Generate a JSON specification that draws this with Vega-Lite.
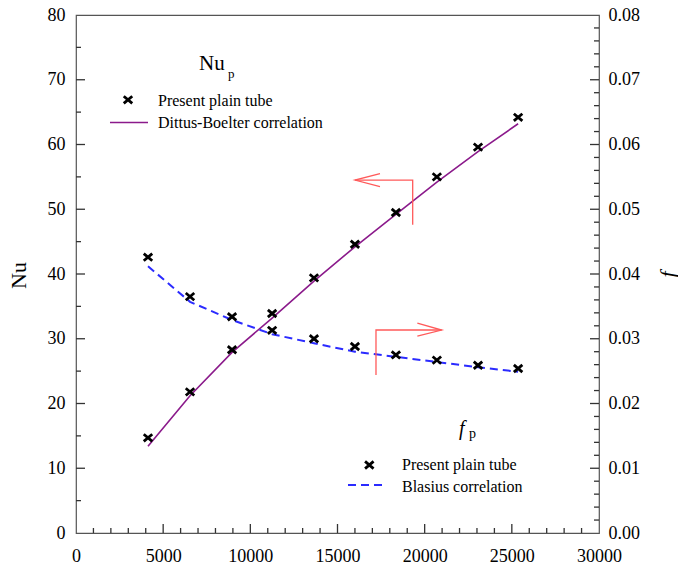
{
  "$schema": "https://vega.github.io/schema/vega-lite/v6.json",
  "width": 523,
  "height": 518,
  "autosize": "none",
  "padding": {"left": 76, "top": 15, "right": 79, "bottom": 36},
  "background": "white",
  "config": {
    "view": {"stroke": "#555", "strokeWidth": 1.2},
    "font": "Liberation Serif",
    "axis": {"grid": false, "domain": false, "labelColor": "black", "titleColor": "black", "labelFont": "Liberation Serif", "titleFont": "Liberation Serif", "labelFontSize": 18, "titleFontWeight": "normal", "labelFlush": false, "labelOverlap": false}
  },
  "datasets": {
    "nu": [{"Re":4130,"Nu":14.7},{"Re":6540,"Nu":21.8},{"Re":8950,"Nu":28.3},{"Re":11250,"Nu":33.9},{"Re":13650,"Nu":39.4},{"Re":16000,"Nu":44.6},{"Re":18350,"Nu":49.5},{"Re":20700,"Nu":55.0},{"Re":23060,"Nu":59.6},{"Re":25360,"Nu":64.2}],
    "db": [{"Re":4130,"Nu":13.4},{"Re":6540,"Nu":21.2},{"Re":8950,"Nu":27.9},{"Re":11250,"Nu":33.2},{"Re":13650,"Nu":38.9},{"Re":16000,"Nu":44.2},{"Re":18350,"Nu":49.2},{"Re":20700,"Nu":54.2},{"Re":23060,"Nu":58.9},{"Re":25360,"Nu":63.2}],
    "fp": [{"Re":4130,"f":0.0426},{"Re":6540,"f":0.0365},{"Re":8950,"f":0.0334},{"Re":11250,"f":0.0313},{"Re":13650,"f":0.0300},{"Re":16000,"f":0.0288},{"Re":18350,"f":0.0275},{"Re":20700,"f":0.0267},{"Re":23060,"f":0.0259},{"Re":25360,"f":0.0254}],
    "bl": [{"Re":4130,"f":0.0412},{"Re":6540,"f":0.0357},{"Re":8950,"f":0.0329},{"Re":11250,"f":0.0307},{"Re":13650,"f":0.0293},{"Re":16000,"f":0.0280},{"Re":18350,"f":0.0272},{"Re":20700,"f":0.0264},{"Re":23060,"f":0.0256},{"Re":25360,"f":0.0249}],
    "arrowNu": [{"seg":"a","o":1,"Re":19313,"Nu":47.6},{"seg":"a","o":2,"Re":19313,"Nu":54.5},{"seg":"a","o":3,"Re":16003,"Nu":54.5},{"seg":"b","o":1,"Re":17437,"Nu":55.5},{"seg":"b","o":2,"Re":16003,"Nu":54.5},{"seg":"b","o":3,"Re":17437,"Nu":53.5}],
    "arrowF": [{"seg":"c","o":1,"Re":17208,"f":0.0244},{"seg":"c","o":2,"Re":17208,"f":0.03135},{"seg":"c","o":3,"Re":20975,"f":0.03135},{"seg":"d","o":1,"Re":19580,"f":0.0324},{"seg":"d","o":2,"Re":20975,"f":0.03135},{"seg":"d","o":3,"Re":19580,"f":0.0304}],
    "xMajor": [{"Re":5000},{"Re":10000},{"Re":15000},{"Re":20000},{"Re":25000}],
    "xMinor": [{"Re":1000},{"Re":2000},{"Re":3000},{"Re":4000},{"Re":6000},{"Re":7000},{"Re":8000},{"Re":9000},{"Re":11000},{"Re":12000},{"Re":13000},{"Re":14000},{"Re":16000},{"Re":17000},{"Re":18000},{"Re":19000},{"Re":21000},{"Re":22000},{"Re":23000},{"Re":24000},{"Re":26000},{"Re":27000},{"Re":28000},{"Re":29000}],
    "nuMajor": [{"Nu":10},{"Nu":20},{"Nu":30},{"Nu":40},{"Nu":50},{"Nu":60},{"Nu":70}],
    "nuMinor": [{"Nu":5},{"Nu":15},{"Nu":25},{"Nu":35},{"Nu":45},{"Nu":55},{"Nu":65},{"Nu":75}],
    "fMajor": [{"f":0.01},{"f":0.02},{"f":0.03},{"f":0.04},{"f":0.05},{"f":0.06},{"f":0.07}],
    "fMinor": [{"f":0.002},{"f":0.004},{"f":0.006},{"f":0.008},{"f":0.012},{"f":0.014},{"f":0.016},{"f":0.018},{"f":0.022},{"f":0.024},{"f":0.026},{"f":0.028},{"f":0.032},{"f":0.034},{"f":0.036},{"f":0.038},{"f":0.042},{"f":0.044},{"f":0.046},{"f":0.048},{"f":0.052},{"f":0.054},{"f":0.056},{"f":0.058},{"f":0.062},{"f":0.064},{"f":0.066},{"f":0.068},{"f":0.072},{"f":0.074},{"f":0.076},{"f":0.078}]
  },
  "layer": [
    {
      "layer": [
        {
          "data": {"name": "db"},
          "mark": {"type": "line", "color": "#8B1A8B", "strokeWidth": 1.6},
          "encoding": {
            "x": {"field": "Re", "type": "quantitative", "scale": {"domain": [0, 30000], "nice": false},
              "axis": {"orient": "bottom", "title": null, "values": [0,5000,10000,15000,20000,25000,30000],
                "format": "d", "ticks": false, "labelPadding": 14}},
            "y": {"field": "Nu", "type": "quantitative", "scale": {"domain": [0, 80], "nice": false},
              "axis": {"orient": "left", "title": "Nu", "titleFontSize": 22, "titleX": -58, "titleY": 260, "titleAngle": -90, "titleAlign": "center", "titleBaseline": "middle",
                "values": [0,10,20,30,40,50,60,70,80], "ticks": false, "labelPadding": 11}}
          }
        },
        {
          "data": {"name": "xMajor"},
          "mark": {"type": "tick", "orient": "vertical", "size": 9, "thickness": 1.3, "color": "#333", "yOffset": -4.5, "opacity": 1},
          "encoding": {"x": {"field": "Re", "type": "quantitative"}, "y": {"datum": 0, "type": "quantitative"}}
        },
        {
          "data": {"name": "xMinor"},
          "mark": {"type": "tick", "orient": "vertical", "size": 5, "thickness": 1.3, "color": "#333", "yOffset": -2.5, "opacity": 1},
          "encoding": {"x": {"field": "Re", "type": "quantitative"}, "y": {"datum": 0, "type": "quantitative"}}
        },
        {
          "data": {"name": "nuMajor"},
          "mark": {"type": "tick", "orient": "horizontal", "size": 9, "thickness": 1.3, "color": "#333", "xOffset": 4.5, "opacity": 1},
          "encoding": {"y": {"field": "Nu", "type": "quantitative"}, "x": {"datum": 0, "type": "quantitative"}}
        },
        {
          "data": {"name": "nuMinor"},
          "mark": {"type": "tick", "orient": "horizontal", "size": 5, "thickness": 1.3, "color": "#333", "xOffset": 2.5, "opacity": 1},
          "encoding": {"y": {"field": "Nu", "type": "quantitative"}, "x": {"datum": 0, "type": "quantitative"}}
        },
        {
          "data": {"name": "nu"},
          "mark": {"type": "point", "shape": "M-1,-0.85L1,0.85M-1,0.85L1,-0.85", "size": 72, "filled": false, "stroke": "black", "strokeWidth": 2.8, "opacity": 1},
          "encoding": {
            "x": {"field": "Re", "type": "quantitative"},
            "y": {"field": "Nu", "type": "quantitative"}
          }
        },
        {
          "data": {"name": "arrowNu"},
          "mark": {"type": "line", "color": "#FF5A5A", "strokeWidth": 1.3},
          "encoding": {
            "x": {"field": "Re", "type": "quantitative"},
            "y": {"field": "Nu", "type": "quantitative"},
            "detail": {"field": "seg"},
            "order": {"field": "o"}
          }
        },
        {
          "data": {"values": [{}]},
          "mark": {"type": "text", "text": "Nu", "fontSize": 21, "align": "left", "baseline": "alphabetic", "color": "black"},
          "encoding": {"x": {"datum": 7055, "type": "quantitative"}, "y": {"datum": 71.5, "type": "quantitative"}}
        },
        {
          "data": {"values": [{}]},
          "mark": {"type": "text", "text": "p", "fontSize": 13, "align": "left", "baseline": "alphabetic", "color": "black"},
          "encoding": {"x": {"datum": 8719, "type": "quantitative"}, "y": {"datum": 70.3, "type": "quantitative"}}
        },
        {
          "data": {"values": [{}]},
          "mark": {"type": "point", "shape": "M-1,-0.85L1,0.85M-1,0.85L1,-0.85", "size": 72, "filled": false, "stroke": "black", "strokeWidth": 2.8, "opacity": 1},
          "encoding": {"x": {"datum": 2983, "type": "quantitative"}, "y": {"datum": 66.9, "type": "quantitative"}}
        },
        {
          "data": {"values": [{}]},
          "mark": {"type": "text", "text": "Present plain tube", "fontSize": 16, "align": "left", "baseline": "alphabetic", "color": "black"},
          "encoding": {"x": {"datum": 4704, "type": "quantitative"}, "y": {"datum": 65.9, "type": "quantitative"}}
        },
        {
          "data": {"values": [{}]},
          "mark": {"type": "rule", "color": "#8B1A8B", "strokeWidth": 1.6},
          "encoding": {"x": {"datum": 1950, "type": "quantitative"}, "x2": {"datum": 4130}, "y": {"datum": 63.4, "type": "quantitative"}}
        },
        {
          "data": {"values": [{}]},
          "mark": {"type": "text", "text": "Dittus-Boelter correlation", "fontSize": 16, "align": "left", "baseline": "alphabetic", "color": "black"},
          "encoding": {"x": {"datum": 4704, "type": "quantitative"}, "y": {"datum": 62.5, "type": "quantitative"}}
        }
      ]
    },
    {
      "layer": [
        {
          "data": {"name": "bl"},
          "mark": {"type": "line", "color": "#2B2BFF", "strokeWidth": 2, "strokeDash": [8, 5]},
          "encoding": {
            "x": {"field": "Re", "type": "quantitative", "axis": null},
            "y": {"field": "f", "type": "quantitative", "scale": {"domain": [0, 0.08], "nice": false},
              "axis": {"orient": "right", "title": "f", "titleFontSize": 22, "titleFontStyle": "italic", "titleX": 68, "titleY": 259, "titleAngle": -90, "titleAlign": "center", "titleBaseline": "middle",
                "values": [0,0.01,0.02,0.03,0.04,0.05,0.06,0.07,0.08],
                "format": ".2f", "ticks": false, "labelPadding": 9}}
          }
        },
        {
          "data": {"name": "fMajor"},
          "mark": {"type": "tick", "orient": "horizontal", "size": 9, "thickness": 1.3, "color": "#333", "xOffset": -4.5, "opacity": 1},
          "encoding": {"y": {"field": "f", "type": "quantitative"}, "x": {"datum": 30000, "type": "quantitative", "axis": null}}
        },
        {
          "data": {"name": "fMinor"},
          "mark": {"type": "tick", "orient": "horizontal", "size": 5, "thickness": 1.3, "color": "#333", "xOffset": -2.5, "opacity": 1},
          "encoding": {"y": {"field": "f", "type": "quantitative"}, "x": {"datum": 30000, "type": "quantitative", "axis": null}}
        },
        {
          "data": {"name": "fp"},
          "mark": {"type": "point", "shape": "M-1,-0.85L1,0.85M-1,0.85L1,-0.85", "size": 72, "filled": false, "stroke": "black", "strokeWidth": 2.8, "opacity": 1},
          "encoding": {
            "x": {"field": "Re", "type": "quantitative", "axis": null},
            "y": {"field": "f", "type": "quantitative"}
          }
        },
        {
          "data": {"name": "arrowF"},
          "mark": {"type": "line", "color": "#FF5A5A", "strokeWidth": 1.3},
          "encoding": {
            "x": {"field": "Re", "type": "quantitative", "axis": null},
            "y": {"field": "f", "type": "quantitative"},
            "detail": {"field": "seg"},
            "order": {"field": "o"}
          }
        },
        {
          "data": {"values": [{}]},
          "mark": {"type": "text", "text": "f", "fontSize": 20, "fontStyle": "italic", "align": "left", "baseline": "alphabetic", "color": "black"},
          "encoding": {"x": {"datum": 21970, "type": "quantitative", "axis": null}, "y": {"datum": 0.0151, "type": "quantitative"}}
        },
        {
          "data": {"values": [{}]},
          "mark": {"type": "text", "text": "p", "fontSize": 14, "align": "left", "baseline": "alphabetic", "color": "black"},
          "encoding": {"x": {"datum": 22543, "type": "quantitative", "axis": null}, "y": {"datum": 0.0147, "type": "quantitative"}}
        },
        {
          "data": {"values": [{}]},
          "mark": {"type": "point", "shape": "M-1,-0.85L1,0.85M-1,0.85L1,-0.85", "size": 72, "filled": false, "stroke": "black", "strokeWidth": 2.8, "opacity": 1},
          "encoding": {"x": {"datum": 16824, "type": "quantitative", "axis": null}, "y": {"datum": 0.0105, "type": "quantitative"}}
        },
        {
          "data": {"values": [{}]},
          "mark": {"type": "text", "text": "Present plain tube", "fontSize": 16, "align": "left", "baseline": "alphabetic", "color": "black"},
          "encoding": {"x": {"datum": 18700, "type": "quantitative", "axis": null}, "y": {"datum": 0.0097, "type": "quantitative"}}
        },
        {
          "data": {"values": [{}]},
          "mark": {"type": "rule", "color": "#2B2BFF", "strokeWidth": 2, "strokeDash": [8, 5]},
          "encoding": {"x": {"datum": 15602, "type": "quantitative", "axis": null}, "x2": {"datum": 17724}, "y": {"datum": 0.0074, "type": "quantitative"}}
        },
        {
          "data": {"values": [{}]},
          "mark": {"type": "text", "text": "Blasius correlation", "fontSize": 16, "align": "left", "baseline": "alphabetic", "color": "black"},
          "encoding": {"x": {"datum": 18700, "type": "quantitative", "axis": null}, "y": {"datum": 0.0064, "type": "quantitative"}}
        }
      ]
    }
  ],
  "resolve": {"scale": {"y": "independent"}, "axis": {"x": "independent", "y": "independent"}}
}
